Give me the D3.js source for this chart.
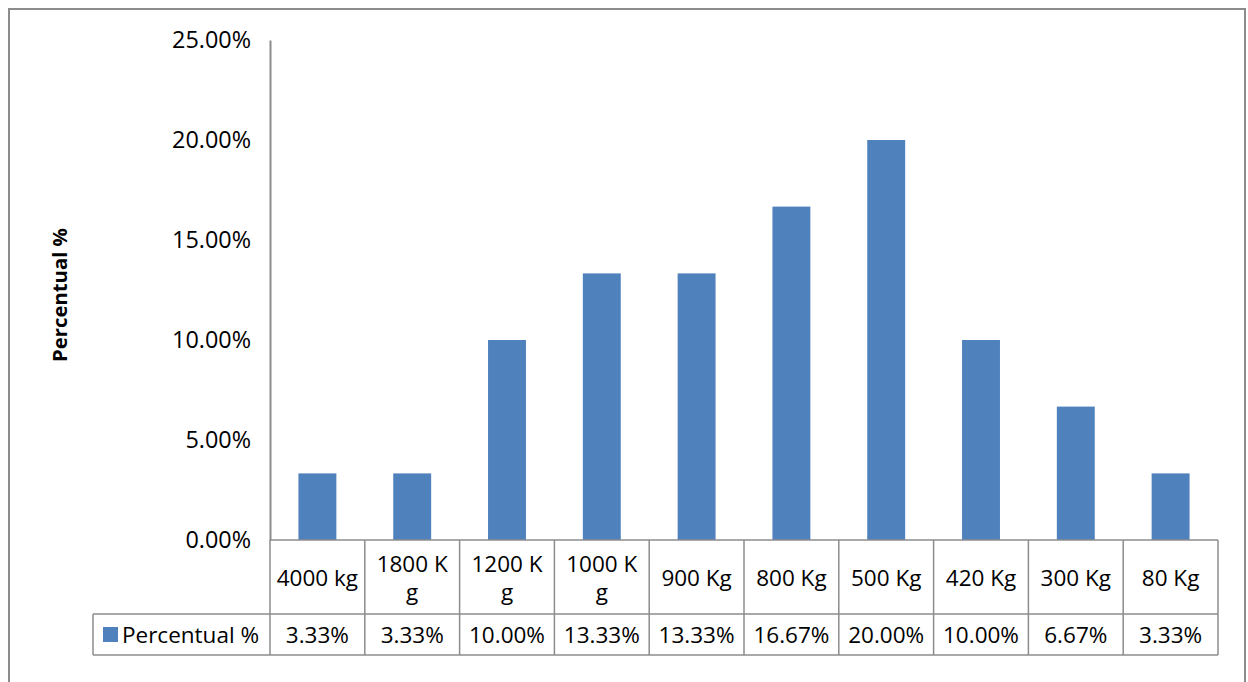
<!DOCTYPE html>
<html>
<head>
<meta charset="utf-8">
<script src="https://cdnjs.cloudflare.com/ajax/libs/d3/7.8.5/d3.min.js"></script>
<style>
  body { margin: 0; background: #fff; }
  svg { font-family: "Open Sans", sans-serif; }
</style>
</head>
<body>
<script>
const categories = ["4000 kg", "1800 Kg", "1200 Kg", "1000 Kg", "900 Kg", "800 Kg", "500 Kg", "420 Kg", "300 Kg", "80 Kg"]
const values = [3.33, 3.33, 10.00, 13.33, 13.33, 16.67, 20.00, 10.00, 6.67, 3.33]
const yTicks = [0, 5, 10, 15, 20, 25]
const seriesName = "Percentual %"

const width = 1248
const height = 682
const plot = {left: 270, right: 1218, top: 40, bottom: 540}
const row1 = 74, row2 = 41
const keyLeft = 93
const barColor = "#4F81BD"
const lineColor = "#8c8c8c"
const fs = 22.5

const svg = d3.select("body").append("svg")
              .attr("width", width)
              .attr("height", height)

// outer chart border
svg.append("rect")
   .attr("x", 9).attr("y", 9)
   .attr("width", 1236).attr("height", 690)
   .attr("fill", "none")
   .attr("stroke", lineColor)
   .attr("stroke-width", 2)

const x = d3.scaleBand()
            .domain(categories)
            .range([plot.left, plot.right])
            .paddingInner(0.6)
            .paddingOuter(0.3)

const xCell = d3.scaleBand()
                .domain(categories)
                .range([plot.left, plot.right])

const y = d3.scaleLinear()
            .domain([0, 25])
            .range([plot.bottom, plot.top])

// y axis
const yAxis = d3.axisLeft(y)
                .tickValues(yTicks)
                .tickSize(0)
                .tickPadding(19)
                .tickFormat(d => d3.format(".2f")(d) + "%")

const gy = svg.append("g")
              .attr("transform", `translate(${plot.left},0)`)
              .call(yAxis)
gy.select(".domain").attr("stroke", lineColor).attr("stroke-width", 2)
gy.selectAll("text")
  .attr("font-size", 23.4)
  .attr("fill", "#000")
  .attr("font-family", "Open Sans, sans-serif")

// y title
svg.append("text")
   .text(seriesName)
   .attr("transform", "translate(67,295) rotate(-90)")
   .attr("text-anchor", "middle")
   .attr("font-weight", "bold")
   .attr("font-size", 20.3)

// bars
svg.selectAll("rect.bar")
   .data(values)
   .enter()
   .append("rect")
   .attr("class", "bar")
   .attr("x", (d, i) => x(categories[i]))
   .attr("width", x.bandwidth())
   .attr("y", d => y(d))
   .attr("height", d => y(0) - y(d))
   .attr("fill", barColor)

// data table
const table = svg.append("g")
const tTop = plot.bottom
const tMid = tTop + row1
const tBot = tMid + row2

const grid = [
  [plot.left, tTop, plot.right, tTop],
  [plot.left, tMid, plot.right, tMid],
  [keyLeft, tMid, plot.left, tMid],
  [keyLeft, tBot, plot.right, tBot],
  [keyLeft, tMid, keyLeft, tBot]
]
categories.forEach(c => grid.push([xCell(c), tTop, xCell(c), tBot]))
grid.push([plot.right, tTop, plot.right, tBot])

table.selectAll("line")
     .data(grid)
     .enter()
     .append("line")
     .attr("x1", d => d[0]).attr("y1", d => d[1])
     .attr("x2", d => d[2]).attr("y2", d => d[3])
     .attr("stroke", lineColor)
     .attr("stroke-width", 1.5)

// category labels, wrapped by character like the spreadsheet does
const catText = table.selectAll("text.cat")
     .data(categories)
     .enter()
     .append("text")
     .attr("class", "cat")
     .attr("text-anchor", "middle")
     .attr("font-size", fs)

// width limit sits between "4000 kg" and "1800 Kg"
const probeT = svg.append("text").attr("font-size", fs)
const wOf = s => probeT.text(s).node().getComputedTextLength()
const maxW = (wOf("4000 kg") + wOf("1800 Kg")) / 2
probeT.remove()

catText.each(function (d) {
  const t = d3.select(this)
  const lines = []
  let cur = ""
  t.text("")
  const probe = t.append("tspan")
  for (const ch of d) {
    probe.text(cur + ch)
    if (probe.node().getComputedTextLength() > maxW && cur) {
      lines.push(cur)
      cur = ch.trim()
    } else cur += ch
  }
  lines.push(cur)
  probe.remove()
  const cx = xCell(d) + xCell.bandwidth() / 2
  const lh = 28
  const y0 = tTop + row1 / 2 + 9 - (lines.length - 1) * lh / 2
  lines.forEach((l, i) => {
    t.append("tspan").attr("x", cx).attr("y", y0 + i * lh).text(l)
  })
})

table.selectAll("text.val")
     .data(values)
     .enter()
     .append("text")
     .attr("class", "val")
     .attr("x", (d, i) => xCell(categories[i]) + xCell.bandwidth() / 2)
     .attr("y", tMid + row2 / 2 + 8.5)
     .attr("text-anchor", "middle")
     .attr("font-size", fs)
     .text(d => d3.format(".2f")(d) + "%")

// legend key
table.append("rect")
     .attr("x", 103).attr("y", tMid + 13)
     .attr("width", 15).attr("height", 15)
     .attr("fill", barColor)

table.append("text")
     .attr("x", 122)
     .attr("y", tMid + row2 / 2 + 8.5)
     .attr("font-size", fs)
     .text(seriesName)
</script>
</body>
</html>
